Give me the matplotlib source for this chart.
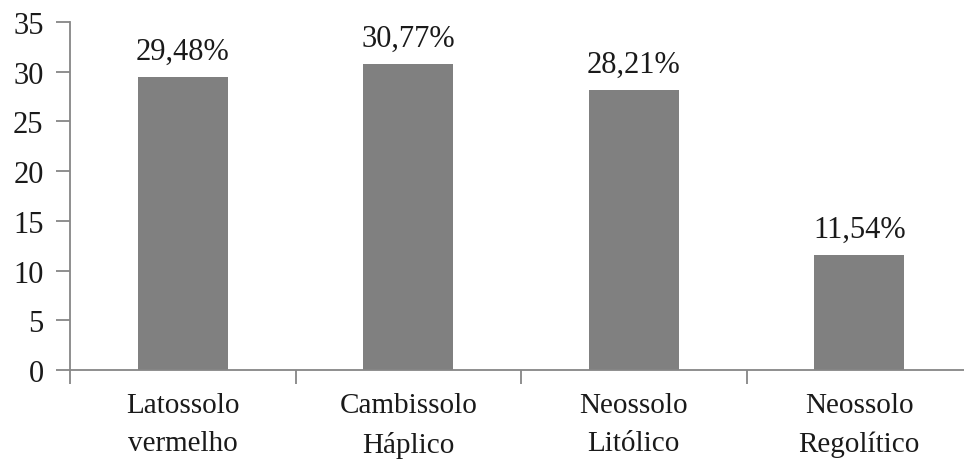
import numpy as np
import matplotlib.pyplot as plt

categories = ["Latossolo\nvermelho", "Cambissolo\nHáplico", "Neossolo\nLitólico", "Neossolo\nRegolítico"]
values = [29.48, 30.77, 28.21, 11.54]
labels = ["29,48%", "30,77%", "28,21%", "11,54%"]
yticks = [0, 5, 10, 15, 20, 25, 30, 35]

plt.rcParams['font.family'] = ['Liberation Serif', 'DejaVu Serif']

W, H = 964, 464
fig = plt.figure(figsize=(W / 100, H / 100), dpi=100)
# axes box in pixels: left 70, right 972 (runs off the edge), y=0 at 371, y=35 at 23
ax = fig.add_axes([70 / W, (H - 371) / H, (972 - 70) / W, (371 - 23) / H])

x = np.arange(len(categories))
ax.bar(x, values, width=0.40, color='#808080', zorder=2)
for xi, v, lab in zip(x, values, labels):
    ax.annotate(lab, (xi, v), xytext=(0, 8), textcoords='offset points',
                ha='center', va='bottom', fontsize=22, color='#1a1a1a')

ax.set_xlim(-0.5, len(categories) - 0.5)
ax.set_ylim(0, 35)
ax.set_yticks(yticks)
ax.set_yticklabels([str(t) for t in yticks], fontsize=22, color='#1a1a1a')

# category labels centred, ticks at the boundaries between categories
ax.set_xticks(x)
ax.set_xticklabels(categories, fontsize=21, color='#1a1a1a', linespacing=1.6)
ax.tick_params(axis='x', length=0, pad=16)
ax.set_xticks(np.arange(len(categories) + 1) - 0.5, minor=True)
ax.tick_params(axis='x', which='minor', length=10, width=1.3, color='#868686', direction='out')
ax.tick_params(axis='y', length=10, width=1.3, color='#868686', direction='out', pad=9)

for s in ['top', 'right']:
    ax.spines[s].set_visible(False)
for s in ['left', 'bottom']:
    ax.spines[s].set_color('#868686')
    ax.spines[s].set_linewidth(1.3)

fig.savefig('out.png', dpi=100)
